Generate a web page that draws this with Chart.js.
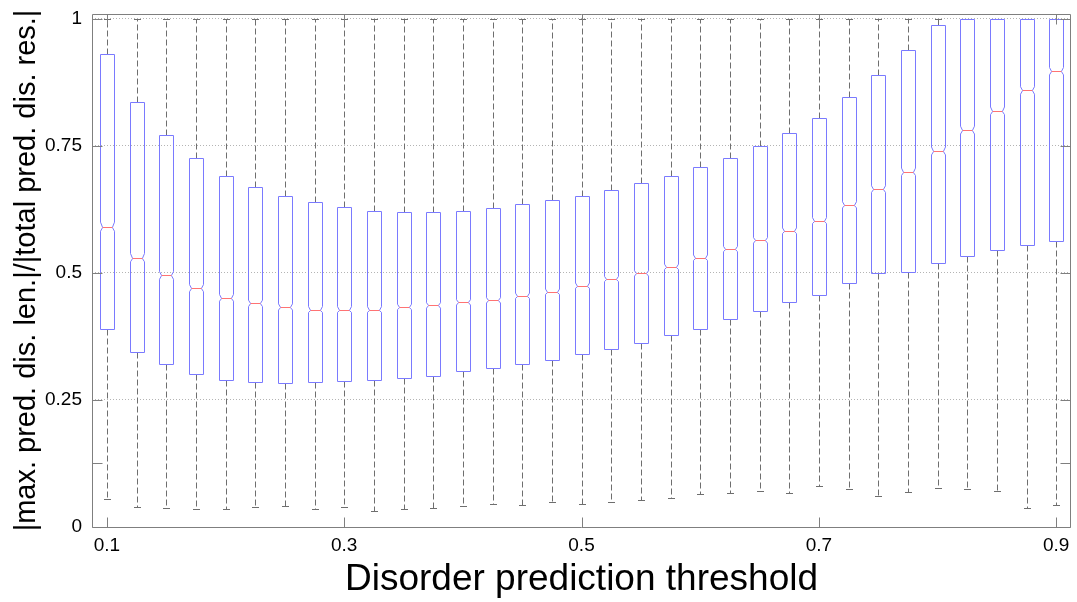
<!DOCTYPE html>
<html>
<head>
<meta charset="utf-8">
<title>Disorder prediction threshold</title>
<script src="https://cdn.jsdelivr.net/npm/chart.js@4.4.1/dist/chart.umd.min.js"></script>
<style>
    html, body { margin: 0; padding: 0; background: #ffffff; }
    #wrap { width: 1077px; height: 602px; position: relative; }
</style>
</head>
<body>
<div id="wrap"><canvas id="boxChart"></canvas></div>
<script>
// One box per threshold
const thresholds = [0.100, 0.125, 0.150, 0.175, 0.200, 0.225, 0.250, 0.275, 0.300, 0.325, 0.350,
                    0.375, 0.400, 0.425, 0.450, 0.475, 0.500, 0.525, 0.550, 0.575, 0.600, 0.625,
                    0.650, 0.675, 0.700, 0.725, 0.750, 0.775, 0.800, 0.825, 0.850, 0.875, 0.900];

const whiskerHigh = [1, 1, 1, 1, 1, 1, 1, 1, 1, 1, 1,
                     1, 1, 1, 1, 1, 1, 1, 1, 1, 1, 1,
                     1, 1, 1, 1, 1, 1, 1, 1, 1, 1, 1];

const upperQuartile = [0.930, 0.837, 0.772, 0.727, 0.690, 0.670, 0.652, 0.639, 0.629, 0.622, 0.620,
                       0.619, 0.622, 0.628, 0.635, 0.643, 0.652, 0.663, 0.677, 0.691, 0.709, 0.726,
                       0.750, 0.776, 0.805, 0.846, 0.889, 0.939, 0.988, 1.000, 1.000, 1.000, 1.000];

const medians = [0.591, 0.530, 0.495, 0.470, 0.451, 0.440, 0.433, 0.428, 0.428, 0.428, 0.433,
                 0.436, 0.442, 0.446, 0.455, 0.463, 0.475, 0.488, 0.499, 0.512, 0.530, 0.547,
                 0.564, 0.583, 0.603, 0.634, 0.665, 0.699, 0.740, 0.781, 0.819, 0.859, 0.897];

const lowerQuartile = [0.390, 0.345, 0.320, 0.302, 0.290, 0.285, 0.283, 0.285, 0.287, 0.289, 0.294,
                       0.298, 0.306, 0.313, 0.320, 0.328, 0.340, 0.351, 0.363, 0.378, 0.389, 0.409,
                       0.426, 0.442, 0.457, 0.480, 0.499, 0.502, 0.519, 0.534, 0.546, 0.555, 0.562];

const whiskerLow = [0.056, 0.040, 0.037, 0.035, 0.035, 0.039, 0.041, 0.035, 0.039, 0.032, 0.035,
                    0.037, 0.041, 0.045, 0.044, 0.050, 0.045, 0.050, 0.053, 0.058, 0.065, 0.066,
                    0.071, 0.067, 0.080, 0.075, 0.061, 0.069, 0.077, 0.075, 0.070, 0.037, 0.043];

const xTickLabels = ['0.1', '0.3', '0.5', '0.7', '0.9'];
const yTickValues = [0, 0.125, 0.25, 0.5, 0.75, 1];
const yGridValues = [0.25, 0.5, 0.75, 1];

// proteins per threshold, used for the notch height (1.57 * IQR / sqrt(n))
const sampleCount = 9000;

const fmt = v => String(+v.toFixed(3));
const crisp = v => Math.round(v) + 0.5;

const BLUE = '#7a7aff';
const RED = '#ff7373';
const WHISKER = '#6e6e6e';
const FRAME = '#7f7f7f';

const notchedBoxes = {
    id: 'notchedBoxes',
    afterDatasetsDraw(chart) {
        const { ctx, scales: { x, y } } = chart;
        const unit = x.getPixelForValue(1) - x.getPixelForValue(0);
        const halfW = unit * 0.25;
        const capW = unit * 0.125;

        ctx.save();
        ctx.lineWidth = 1;

        thresholds.forEach((t, i) => {
            const cx = crisp(x.getPixelForValue(i));
            const yHi = y.getPixelForValue(whiskerHigh[i]);
            const yQ3 = y.getPixelForValue(upperQuartile[i]);
            const yMed = crisp(y.getPixelForValue(medians[i]));
            const yQ1 = y.getPixelForValue(lowerQuartile[i]);
            const yLo = y.getPixelForValue(whiskerLow[i]);

            // whiskers
            ctx.strokeStyle = WHISKER;
            ctx.setLineDash([6, 3]);
            ctx.beginPath();
            if (whiskerHigh[i] > upperQuartile[i]) {
                ctx.moveTo(cx, crisp(yQ3));
                ctx.lineTo(cx, crisp(yHi));
            }
            ctx.moveTo(cx, crisp(yQ1));
            ctx.lineTo(cx, crisp(yLo));
            ctx.stroke();
            ctx.setLineDash([]);

            // whisker caps
            ctx.beginPath();
            if (whiskerHigh[i] > upperQuartile[i]) {
                ctx.moveTo(Math.round(cx - capW), crisp(yHi));
                ctx.lineTo(Math.round(cx + capW), crisp(yHi));
            }
            ctx.moveTo(Math.round(cx - capW), crisp(yLo));
            ctx.lineTo(Math.round(cx + capW), crisp(yLo));
            ctx.stroke();

            // notched box
            const iqr = upperQuartile[i] - lowerQuartile[i];
            const notch = 1.57 * iqr / Math.sqrt(sampleCount);
            const nTop = y.getPixelForValue(Math.min(medians[i] + notch, upperQuartile[i]));
            const nBot = y.getPixelForValue(Math.max(medians[i] - notch, lowerQuartile[i]));
            const L = crisp(cx - halfW);
            const R = crisp(cx + halfW) - 1;
            const inset = (R - L) * 0.15;
            const top = crisp(yQ3);
            const bot = crisp(yQ1);

            ctx.strokeStyle = BLUE;
            ctx.beginPath();
            ctx.moveTo(L, top);
            ctx.lineTo(R, top);
            ctx.lineTo(R, nTop);
            ctx.lineTo(R - inset, yMed);
            ctx.lineTo(R, nBot);
            ctx.lineTo(R, bot);
            ctx.lineTo(L, bot);
            ctx.lineTo(L, nBot);
            ctx.lineTo(L + inset, yMed);
            ctx.lineTo(L, nTop);
            ctx.closePath();
            ctx.stroke();

            // median
            ctx.strokeStyle = RED;
            ctx.beginPath();
            ctx.moveTo(L + inset, yMed);
            ctx.lineTo(R - inset, yMed);
            ctx.stroke();
        });
        ctx.restore();
    },
    afterDraw(chart) {
        // axes box with inward tick marks on all four sides
        const { ctx, chartArea: a, scales: { x, y } } = chart;
        const left = crisp(a.left), right = crisp(a.right) - 1;
        const top = crisp(a.top), bottom = crisp(a.bottom);
        const tick = 10;

        ctx.save();
        ctx.strokeStyle = FRAME;
        ctx.lineWidth = 1;
        ctx.beginPath();
        ctx.rect(left, top, right - left, bottom - top);

        xTickLabels.forEach(lbl => {
            const i = thresholds.findIndex(t => fmt(t) === lbl);
            const px = crisp(x.getPixelForValue(i));
            ctx.moveTo(px, bottom);
            ctx.lineTo(px, bottom - tick);
            ctx.moveTo(px, top);
            ctx.lineTo(px, top + tick);
        });
        yTickValues.forEach(v => {
            const py = crisp(y.getPixelForValue(v));
            ctx.moveTo(left, py);
            ctx.lineTo(left + tick, py);
            ctx.moveTo(right, py);
            ctx.lineTo(right - tick, py);
        });
        ctx.stroke();
        ctx.restore();
    }
};

Chart.defaults.font.family = "'Liberation Sans', Arial, sans-serif";
Chart.defaults.color = '#000000';

new Chart(document.getElementById('boxChart'), {
    type: 'line',
    data: {
        labels: thresholds.map(fmt),
        datasets: [{
            label: 'median',
            data: medians,
            showLine: false,
            pointRadius: 0,
            pointHoverRadius: 0
        }]
    },
    options: {
        responsive: true,
        maintainAspectRatio: false,
        animation: false,
        events: [],
        layout: { padding: { top: 14, right: 6, left: 0, bottom: 0 } },
        plugins: {
            legend: { display: false },
            tooltip: { enabled: false }
        },
        scales: {
            x: {
                type: 'category',
                offset: true,
                afterFit: scale => {
                    scale.height = 75;
                    scale.paddingLeft = 0;
                    scale.paddingRight = 0;
                },
                grid: { display: false, drawTicks: false },
                border: { display: false },
                ticks: {
                    autoSkip: false,
                    maxRotation: 0,
                    padding: 7,
                    font: { size: 19 },
                    callback: (val, i) => xTickLabels.includes(fmt(thresholds[i])) ? fmt(thresholds[i]) : ''
                },
                title: {
                    display: true,
                    text: 'Disorder prediction threshold',
                    font: { size: 37 },
                    padding: { top: 0, bottom: 0 }
                }
            },
            y: {
                min: 0,
                max: 1.0095,
                afterFit: scale => {
                    scale.width = 92;
                    scale.paddingTop = 0;
                    scale.paddingBottom = 0;
                },
                afterBuildTicks: scale => { scale.ticks = yTickValues.map(v => ({ value: v })); },
                grid: {
                    drawTicks: false,
                    lineWidth: 1,
                    color: c => (c.tick && yGridValues.includes(c.tick.value)) ? '#b4b4b4' : 'rgba(0,0,0,0)',
                    borderDash: [1, 2]
                },
                border: { display: false, dash: [1, 2] },
                ticks: {
                    padding: 10,
                    font: { size: 19 },
                    callback: v => (v === 0.125 ? '' : fmt(v))
                },
                title: {
                    display: true,
                    text: '|max. pred. dis. len.|/|total pred. dis. res.|',
                    font: { size: 29 },
                    padding: { top: 10, bottom: 0 }
                }
            }
        }
    },
    plugins: [notchedBoxes]
});
</script>
</body>
</html>
